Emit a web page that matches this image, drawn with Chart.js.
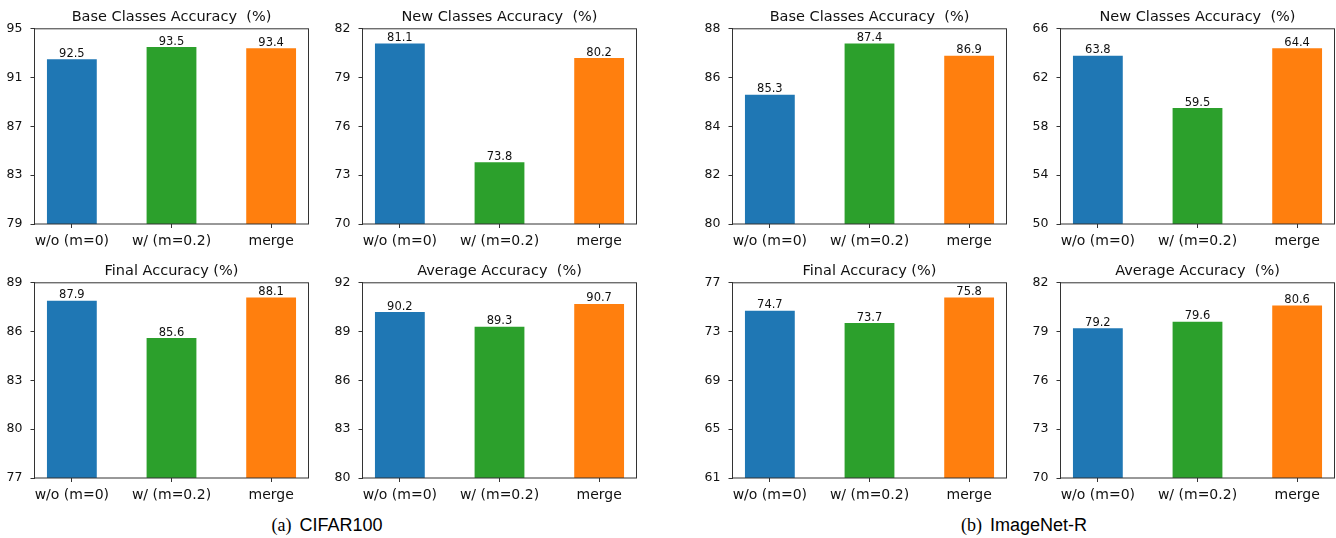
<!DOCTYPE html>
<html>
<head>
<meta charset="utf-8">
<script src="https://cdn.jsdelivr.net/npm/chart.js@4.4.1/dist/chart.umd.min.js"></script>
<style>
  html, body { margin: 0; padding: 0; background: #fff; }
  #fig { position: relative; width: 1336px; height: 538px; overflow: hidden; background: #fff; }
  #fig canvas { position: absolute; }
  .cap { position: absolute; top: 516px; font-size: 18px; line-height: 18px; color: #000;
         white-space: nowrap; transform: translateX(-50%); }
  .cap .tag { font-family: "Liberation Serif", "Times New Roman", serif; margin-right: 8px; }
  .cap .name { font-family: "Liberation Sans", Arial, sans-serif; }
</style>
</head>
<body>
<div id="fig">
  <div class="cap" style="left:327px"><span class="tag">(a)</span><span class="name">CIFAR100</span></div>
  <div class="cap" style="left:1024px"><span class="tag">(b)</span><span class="name">ImageNet-R</span></div>
</div>
<script>
// Methods compared in every panel
const methods = ['w/o (m=0)', 'w/ (m=0.2)', 'merge'];

// CIFAR100 results
const cifarBase = [92.5, 93.5, 93.4];
const cifarBaseTicks = [79, 83, 87, 91, 95];
const cifarNew = [81.1, 73.8, 80.2];
const cifarNewTicks = [70, 73, 76, 79, 82];
const cifarFinal = [87.9, 85.6, 88.1];
const cifarFinalTicks = [77, 80, 83, 86, 89];
const cifarAvg = [90.2, 89.3, 90.7];
const cifarAvgTicks = [80, 83, 86, 89, 92];

// ImageNet-R results
const inrBase = [85.3, 87.4, 86.9];
const inrBaseTicks = [80, 82, 84, 86, 88];
const inrNew = [63.8, 59.5, 64.4];
const inrNewTicks = [50, 54, 58, 62, 66];
const inrFinal = [74.7, 73.7, 75.8];
const inrFinalTicks = [61, 65, 69, 73, 77];
const inrAvg = [79.2, 79.6, 80.6];
const inrAvgTicks = [70, 73, 76, 79, 82];

const barColors = ['#1f77b4', '#2ca02c', '#ff7f0e'];
const TEXT = '#111111';
const AXIS = '#333333';
const FONT = '"DejaVu Sans", Verdana, sans-serif';

Chart.defaults.font.family = FONT;
Chart.defaults.color = TEXT;

// Box around the plotting area (all four spines)
const framePlugin = {
  id: 'frame',
  afterDatasetsDraw(chart) {
    const { ctx, chartArea: a } = chart;
    ctx.save();
    ctx.strokeStyle = AXIS;
    ctx.lineWidth = 1;
    ctx.strokeRect(a.left, a.top, a.right - a.left, a.bottom - a.top);
    ctx.restore();
  }
};

// Value printed above each bar
const valueLabelPlugin = {
  id: 'valueLabels',
  afterDatasetsDraw(chart) {
    const { ctx } = chart;
    const ds = chart.data.datasets[0];
    const meta = chart.getDatasetMeta(0);
    ctx.save();
    ctx.font = '11.5px ' + FONT;
    ctx.fillStyle = TEXT;
    ctx.textAlign = 'center';
    ctx.textBaseline = 'alphabetic';
    meta.data.forEach((bar, i) => {
      ctx.fillText(ds.data[i].y.toFixed(1), bar.x, bar.y - 2.5);
    });
    ctx.restore();
  }
};

const CANVAS_W = 343, CANVAS_H = 254, SIDE = 34.5, XAXIS_H = 30;

function makePanel(left, top, title, values, ticks) {
  const canvas = document.createElement('canvas');
  canvas.width = CANVAS_W;
  canvas.height = CANVAS_H;
  canvas.style.left = left + 'px';
  canvas.style.top = top + 'px';
  document.getElementById('fig').appendChild(canvas);

  new Chart(canvas, {
    type: 'bar',
    data: {
      datasets: [{
        data: values.map((v, i) => ({ x: i, y: v })),
        backgroundColor: barColors,
        borderWidth: 0,
        barPercentage: 0.5,
        categoryPercentage: 1
      }]
    },
    options: {
      responsive: false,
      animation: false,
      devicePixelRatio: 1,
      layout: { padding: 0 },
      plugins: {
        legend: { display: false },
        tooltip: { enabled: false },
        title: {
          display: true,
          text: title,
          color: TEXT,
          font: { family: FONT, size: 14.5, weight: 'normal', lineHeight: 1.2 },
          padding: { top: 9, bottom: 2.4 }
        }
      },
      scales: {
        x: {
          type: 'linear',
          offset: false,
          min: -0.375,
          max: 2.375,
          afterBuildTicks: s => { s.ticks = methods.map((_, i) => ({ value: i })); },
          afterFit: s => { s.height = XAXIS_H; },
          ticks: {
            callback: v => methods[v],
            color: TEXT,
            font: { size: 14 },
            padding: 5,
            autoSkip: false,
            maxRotation: 0
          },
          grid: { offset: false, drawOnChartArea: false, tickLength: 4, tickColor: AXIS, color: AXIS },
          border: { display: false }
        },
        y: {
          min: ticks[0],
          max: ticks[ticks.length - 1],
          afterBuildTicks: s => { s.ticks = ticks.map(v => ({ value: v })); },
          afterFit: s => { s.width = SIDE; },
          ticks: { color: TEXT, font: { size: 12.5 }, padding: 8 },
          grid: { drawOnChartArea: false, tickLength: 4, tickColor: AXIS, color: AXIS },
          border: { display: false }
        },
        // empty right-hand axis keeps the plot centred under its title
        y2: {
          position: 'right',
          display: true,
          afterFit: s => { s.width = SIDE; },
          ticks: { display: false },
          grid: { display: false },
          border: { display: false }
        }
      }
    },
    plugins: [framePlugin, valueLabelPlugin]
  });
}

const colLeft = [0, 328, 698, 1026];
const rowTop = [0, 254];

makePanel(colLeft[0], rowTop[0], 'Base Classes Accuracy  (%)', cifarBase, cifarBaseTicks);
makePanel(colLeft[1], rowTop[0], 'New Classes Accuracy  (%)', cifarNew, cifarNewTicks);
makePanel(colLeft[0], rowTop[1], 'Final Accuracy (%)', cifarFinal, cifarFinalTicks);
makePanel(colLeft[1], rowTop[1], 'Average Accuracy  (%)', cifarAvg, cifarAvgTicks);

makePanel(colLeft[2], rowTop[0], 'Base Classes Accuracy  (%)', inrBase, inrBaseTicks);
makePanel(colLeft[3], rowTop[0], 'New Classes Accuracy  (%)', inrNew, inrNewTicks);
makePanel(colLeft[2], rowTop[1], 'Final Accuracy (%)', inrFinal, inrFinalTicks);
makePanel(colLeft[3], rowTop[1], 'Average Accuracy  (%)', inrAvg, inrAvgTicks);
</script>
</body>
</html>
